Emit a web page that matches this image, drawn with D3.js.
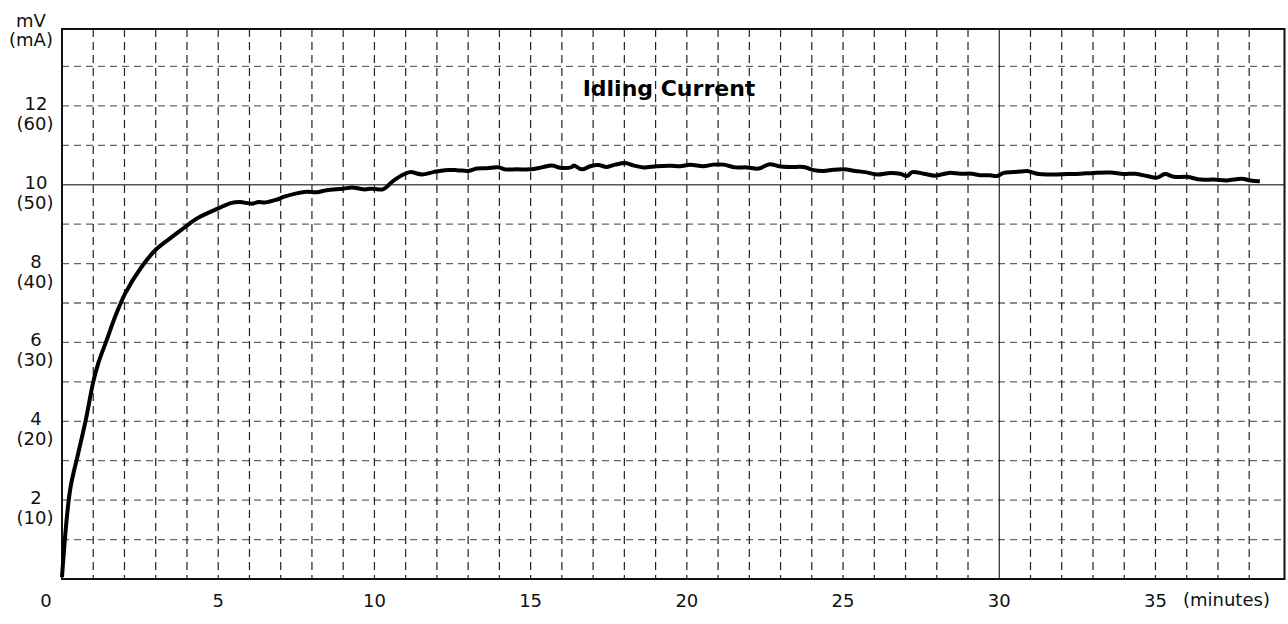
<!DOCTYPE html>
<html>
<head>
<meta charset="utf-8">
<script src="https://cdn.jsdelivr.net/npm/d3@7"></script>
<style>
  html, body { margin: 0; padding: 0; background: #fff; }
  svg { display: block; font-family: "DejaVu Sans", "Liberation Sans", Arial, sans-serif; }
</style>
</head>
<body>
<svg id="chart" width="1288" height="624"></svg>
<script>
// ---- data ----
const times = [0, 0.26, 0.52, 0.76, 1.0, 1.16, 1.43, 1.70, 2.02, 2.55, 3.0, 3.46, 3.88, 4.31, 5.0, 5.43, 5.70, 6.07, 6.29, 6.50, 6.87, 7.09, 7.51, 7.84, 8.15, 8.47, 9.01, 9.28, 9.70, 9.86, 10.02, 10.29, 10.56, 10.88, 11.14, 11.52, 11.89, 12.26, 12.64, 13.01, 13.28, 13.60, 13.97, 14.18, 14.56, 14.99, 15.36, 15.68, 15.95, 16.32, 16.38, 16.64, 16.91, 17.17, 17.44, 17.71, 18.03, 18.29, 18.61, 19.04, 19.47, 19.79, 20.11, 20.53, 20.85, 21.18, 21.55, 21.92, 22.30, 22.65, 22.94, 23.31, 23.74, 24.06, 24.38, 24.70, 25.02, 25.39, 25.71, 26.09, 26.51, 26.83, 27.05, 27.21, 27.58, 27.95, 28.38, 28.75, 29.12, 29.39, 29.71, 29.93, 30.14, 30.46, 30.78, 30.89, 31.26, 31.69, 32.17, 32.60, 33.02, 33.56, 33.98, 34.36, 34.73, 35.05, 35.30, 35.59, 36.01, 36.44, 36.87, 37.29, 37.77, 38.04, 38.34];
const values = [0.05, 2.26, 3.19, 4.03, 5.0, 5.47, 6.06, 6.65, 7.24, 7.92, 8.35, 8.64, 8.89, 9.14, 9.40, 9.54, 9.56, 9.52, 9.56, 9.55, 9.62, 9.69, 9.78, 9.82, 9.81, 9.86, 9.90, 9.93, 9.88, 9.90, 9.89, 9.89, 10.07, 10.24, 10.32, 10.26, 10.32, 10.37, 10.37, 10.35, 10.41, 10.42, 10.44, 10.39, 10.39, 10.39, 10.44, 10.49, 10.43, 10.45, 10.49, 10.39, 10.47, 10.50, 10.45, 10.51, 10.55, 10.49, 10.44, 10.47, 10.48, 10.47, 10.51, 10.47, 10.51, 10.51, 10.44, 10.44, 10.41, 10.52, 10.47, 10.45, 10.45, 10.37, 10.35, 10.38, 10.39, 10.35, 10.32, 10.26, 10.30, 10.28, 10.22, 10.32, 10.28, 10.23, 10.30, 10.28, 10.28, 10.24, 10.24, 10.22, 10.30, 10.32, 10.34, 10.35, 10.27, 10.26, 10.27, 10.28, 10.30, 10.31, 10.27, 10.28, 10.22, 10.18, 10.27, 10.20, 10.20, 10.13, 10.13, 10.11, 10.15, 10.11, 10.09];

const xTickValues = [0, 5, 10, 15, 20, 25, 30, 35];
const xTickLabels = ["0", "5", "10", "15", "20", "25", "30", "35"];
const yTickValues = [2, 4, 6, 8, 10, 12];
const yTickLabelsMV = ["2", "4", "6", "8", "10", "12"];
const yTickLabelsMA = ["(10)", "(20)", "(30)", "(40)", "(50)", "(60)"];
const xGridValues = d3.range(1, 39);   // every minute
const yGridValues = d3.range(1, 14);   // every mV
const xSolidLine = 30;
const ySolidLine = 10;
const titleText = "Idling Current";
const yUnitTop = "mV";
const yUnitBottom = "(mA)";
const xUnit = "(minutes)";

// ---- layout ----
const L = 62, R = 1284.5, T = 29, B = 579;
const x = d3.scaleLinear().domain([0, 39.13]).range([L, R]);
const y = d3.scaleLinear().domain([0, 13.95]).range([B, T]);

const svg = d3.select("#chart");

// grid
const grid = svg.append("g");
grid.selectAll("line.hg").data(yGridValues).join("line")
  .attr("x1", L).attr("x2", R)
  .attr("y1", d => y(d)).attr("y2", d => y(d))
  .attr("stroke", d => d === ySolidLine ? "#555" : "#666")
  .attr("stroke-width", 1.3)
  .attr("stroke-dasharray", d => d === ySolidLine ? null : "7,5");
grid.selectAll("line.vg").data(xGridValues).join("line")
  .attr("y1", T).attr("y2", B)
  .attr("x1", d => x(d)).attr("x2", d => x(d))
  .attr("stroke", d => d === xSolidLine ? "#111" : "#222")
  .attr("stroke-width", d => d === xSolidLine ? 1.1 : 1.2)
  .attr("stroke-dasharray", d => d === xSolidLine ? null : "8,5");

// border
svg.append("rect")
  .attr("x", L).attr("y", T).attr("width", R - L).attr("height", B - T)
  .attr("fill", "none").attr("stroke", "#111").attr("stroke-width", 2);

// curve
const pts = times.map((t, i) => [t, values[i]]);
svg.append("path")
  .datum(pts)
  .attr("fill", "none")
  .attr("stroke", "#000")
  .attr("stroke-width", 4)
  .attr("stroke-linejoin", "round")
  .attr("stroke-linecap", "butt")
  .attr("d", d3.line().x(d => x(d[0])).y(d => y(d[1])).curve(d3.curveCatmullRom.alpha(0.5)));

// y tick labels
const yl = svg.append("g").attr("font-size", 18).attr("fill", "#111").attr("text-anchor", "middle");
yTickValues.forEach((v, i) => {
  yl.append("text").attr("x", 36).attr("y", y(v) + 4).text(yTickLabelsMV[i]);
  yl.append("text").attr("x", 35).attr("y", y(v) + 24).text(yTickLabelsMA[i]);
});
yl.append("text").attr("x", 31).attr("y", 27).text(yUnitTop);
yl.append("text").attr("x", 31).attr("y", 46).text(yUnitBottom);

// x tick labels
const xl = svg.append("g").attr("font-size", 18).attr("fill", "#111").attr("text-anchor", "middle");
xTickValues.forEach((v, i) => {
  xl.append("text").attr("x", v === 0 ? x(v) - 16 : x(v)).attr("y", 607).text(xTickLabels[i]);
});
xl.append("text").attr("x", 1183).attr("y", 606).attr("text-anchor", "start").text(xUnit);

// title
svg.append("text").attr("x", 669).attr("y", 96)
  .attr("text-anchor", "middle").attr("font-size", 22).attr("font-weight", "bold")
  .attr("fill", "#000").text(titleText);
</script>
</body>
</html>
